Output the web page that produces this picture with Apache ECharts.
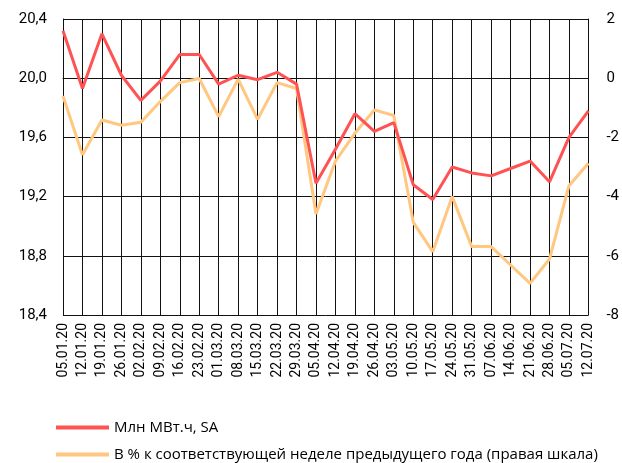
<!DOCTYPE html>
<html>
<head>
<meta charset="utf-8">
<script src="https://cdn.jsdelivr.net/npm/echarts@6/dist/echarts.min.js"></script>
<style>
html,body{margin:0;padding:0;background:#fff;}
#chart{width:622px;height:463px;}
</style>
</head>
<body>
<div id="chart"></div>
<script>
// недели
var weeks = ['05.01.20','12.01.20','19.01.20','26.01.20','02.02.20','09.02.20','16.02.20','23.02.20',
	'01.03.20','08.03.20','15.03.20','22.03.20','29.03.20','05.04.20','12.04.20','19.04.20',
	'26.04.20','03.05.20','10.05.20','17.05.20','24.05.20','31.05.20','07.06.20','14.06.20',
	'21.06.20','28.06.20','05.07.20','12.07.20'];
// млн МВт.ч, SA (левая шкала)
var mlnMwh = [20.32,19.93,20.30,20.02,19.85,19.98,20.16,20.16,19.96,20.02,19.99,20.04,19.96,19.29,
	19.52,19.76,19.64,19.70,19.28,19.18,19.40,19.36,19.34,19.39,19.44,19.30,19.60,19.78];
// % г/г (правая шкала)
var yoyPct = [-0.60,-2.59,-1.41,-1.59,-1.49,-0.79,-0.15,-0.01,-1.30,-0.03,-1.39,-0.15,-0.35,-4.59,
	-2.80,-1.86,-1.07,-1.26,-4.87,-5.86,-4.00,-5.69,-5.69,-6.31,-6.93,-6.11,-3.63,-2.87];
var leftTicks = {min:18.4, max:20.4, interval:0.4};
var rightTicks = {min:-8, max:2, interval:2};

var names = ['Млн МВт.ч, SA','В % к соответствующей неделе предыдущего года (правая шкала)'];
var font = 'Roboto';

function makeLegend(name, top){
	return {
		left:51,
		top:top,
		itemWidth:53,
		itemHeight:4,
		icon:'rect',
		textStyle:{fontFamily:'Open Sans', fontSize:15, color:'#000'},
		data:[name]
	};
}

var chart = echarts.init(document.getElementById('chart'));
var option = {
	animation:false,
	textStyle:{fontFamily:font},
	grid:{left:63, right:33, top:19, bottom:148, containLabel:false},
	legend:[makeLegend(names[0], 415), makeLegend(names[1], 442)],
	xAxis:{
		type:'category',
		data:weeks,
		boundaryGap:false,
		axisLine:{show:true, lineStyle:{color:'#111', width:1}},
		axisTick:{show:false},
		splitLine:{show:true, lineStyle:{color:'#111', width:1}},
		axisLabel:{interval:0, rotate:90, fontSize:14, color:'#000', margin:8, fontFamily:font}
	},
	yAxis:[{
		type:'value',
		min:leftTicks.min, max:leftTicks.max, interval:leftTicks.interval,
		position:'left',
		axisLine:{show:true, lineStyle:{color:'#111'}},
		axisTick:{show:false},
		splitLine:{show:true, lineStyle:{color:'#111', width:1}},
		axisLabel:{fontSize:15, color:'#000', margin:16, fontFamily:font,
			formatter:function(v){ return v.toFixed(1).replace('.',','); }}
	},{
		type:'value',
		min:rightTicks.min, max:rightTicks.max, interval:rightTicks.interval,
		position:'right',
		axisLine:{show:true, lineStyle:{color:'#111'}},
		axisTick:{show:false},
		splitLine:{show:false},
		axisLabel:{fontSize:15, color:'#000', margin:18, fontFamily:font}
	}],
	series:[{
		name:names[0],
		type:'line',
		yAxisIndex:0,
		data:mlnMwh,
		symbol:'none',
		lineStyle:{color:'#FF5252', width:3},
		itemStyle:{color:'#FF5252'},
		z:3
	},{
		name:names[1],
		type:'line',
		yAxisIndex:1,
		data:yoyPct,
		symbol:'none',
		lineStyle:{color:'#FFC77F', width:3},
		itemStyle:{color:'#FFC77F'},
		z:2
	}]
};
chart.setOption(option);
</script>
</body>
</html>
